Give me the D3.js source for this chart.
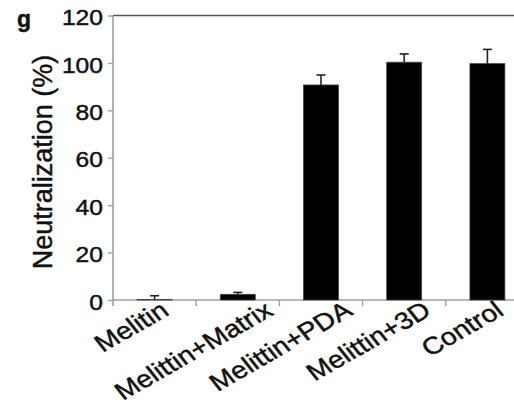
<!DOCTYPE html>
<html>
<head>
<meta charset="utf-8">
<script src="https://cdn.jsdelivr.net/npm/d3@7"></script>
<style>
  html, body { margin: 0; padding: 0; background: #fff; }
  svg { display: block; font-family: Arial, "Liberation Sans", Helvetica, sans-serif; }
  text { fill: #111; stroke: #111; stroke-width: 0.45px; }
</style>
</head>
<body>
<svg id="chart" width="514" height="404"></svg>
<script>
// data
const categories = ["Melitin", "Melittin+Matrix", "Melittin+PDA", "Melittin+3D", "Control"];
const values = [0.2, 2.4, 90.7, 100.3, 99.7];
const errors = [1.6, 0.8, 4.2, 3.5, 6.0];
const yTicks = [0, 20, 40, 60, 80, 100, 120];

const svg = d3.select("#chart");

const plotLeft = 113, plotTop = 15.5, plotBottom = 300;
const step = 83.2;

const x = d3.scaleBand()
    .domain(categories)
    .range([plotLeft, plotLeft + step * categories.length])
    .paddingInner(0.58)
    .paddingOuter(0.29);

const y = d3.scaleLinear()
    .domain([0, 120])
    .range([plotBottom, plotTop]);

// top frame line
svg.append("line")
    .attr("x1", plotLeft).attr("x2", 514)
    .attr("y1", y(120)).attr("y2", y(120))
    .attr("stroke", "#555").attr("stroke-width", 1.6);

// y axis
const yAxis = svg.append("g")
    .attr("transform", `translate(${plotLeft},0)`)
    .call(d3.axisLeft(y).tickValues(yTicks).tickSize(5).tickFormat(""));
yAxis.select(".domain").attr("stroke", "#a0a0a0").attr("stroke-width", 1.6)
    .attr("d", `M0,${y(120)}V${plotBottom + 6}`);
yAxis.selectAll(".tick line").attr("stroke", "#a0a0a0").attr("stroke-width", 1.4);

// y tick labels (figure is stretched a bit horizontally)
svg.append("g").selectAll("text")
    .data(yTicks)
    .join("text")
    .attr("transform", d => `translate(103,${y(d) + 2}) scale(1.12,1)`)
    .attr("dy", "0.35em")
    .attr("text-anchor", "end")
    .attr("font-size", 22)
    .text(d => d);

// x axis line and ticks at category boundaries
svg.append("line")
    .attr("x1", plotLeft).attr("x2", 514)
    .attr("y1", plotBottom).attr("y2", plotBottom)
    .attr("stroke", "#a0a0a0").attr("stroke-width", 1.6);

const bounds = categories.map(c => x(c) - x.step() * x.paddingInner() / 2).slice(1);
svg.append("g").selectAll("line")
    .data(bounds)
    .join("line")
    .attr("x1", d => d).attr("x2", d => d)
    .attr("y1", plotBottom).attr("y2", plotBottom + 6)
    .attr("stroke", "#a0a0a0").attr("stroke-width", 1.4);

// bars
svg.append("g").selectAll("rect")
    .data(values)
    .join("rect")
    .attr("x", (d, i) => x(categories[i]))
    .attr("width", x.bandwidth())
    .attr("y", d => y(d))
    .attr("height", d => y(0) - y(d))
    .attr("fill", "#000")
    .attr("stroke", "#444")
    .attr("stroke-width", 0.8);

// error bars (upper only)
const err = svg.append("g").attr("stroke", "#222").attr("stroke-width", 1.6);
values.forEach((v, i) => {
    const cx = x(categories[i]) + x.bandwidth() / 2;
    err.append("line")
        .attr("x1", cx).attr("x2", cx)
        .attr("y1", y(v)).attr("y2", y(v + errors[i]));
    err.append("line")
        .attr("x1", cx - 4.5).attr("x2", cx + 4.5)
        .attr("y1", y(v + errors[i])).attr("y2", y(v + errors[i]));
});

// rotated category labels
const ang = 34, sx = 1.18;
svg.append("g").selectAll("text")
    .data(categories)
    .join("text")
    .attr("text-anchor", "end")
    .attr("font-size", 24)
    .text(d => d)
    .attr("transform", function(d) {
        const w = this.getComputedTextLength();
        const e = w * Math.cos(ang * Math.PI / 180) * sx;
        const cx = x(d) + x.bandwidth() / 2;
        return `translate(${cx + 0.25 * e - 1},${plotBottom + 14}) scale(${sx},1) rotate(${-ang})`;
    });

// y axis title
svg.append("text")
    .attr("transform", `translate(52,162) rotate(-90)`)
    .attr("text-anchor", "middle")
    .attr("font-size", 27)
    .text("Neutralization (%)");

// panel letter
svg.append("text")
    .attr("x", 17).attr("y", 27)
    .attr("font-size", 23)
    .attr("font-weight", "bold")
    .text("g");
</script>
</body>
</html>
